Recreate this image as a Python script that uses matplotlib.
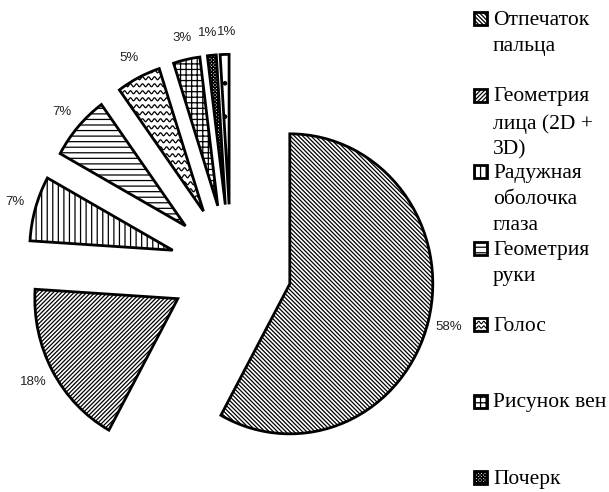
import numpy as np
import matplotlib
matplotlib.use("Agg")
import matplotlib.pyplot as plt
from matplotlib.patches import Rectangle

# доли методов биометрической идентификации, %
shares = [58, 18, 7, 7, 5, 3, 1, 1]
methods = [
    "Отпечаток\nпальца",
    "Геометрия\nлица (2D +\n3D)",
    "Радужная\nоболочка\nглаза",
    "Геометрия\nруки",
    "Голос",
    "Рисунок вен",
    "Почерк",
]
# штриховка секторов; "~" рисуется волнами вручную
hatches = ["\\" * 8, "/" * 8, "|||", "---", "~", "+++", "x" * 10, "."]

plt.rcParams["hatch.linewidth"] = 0.9
plt.rcParams["hatch.color"] = "black"

W, H = 609, 492
fig = plt.figure(figsize=(W / 100, H / 100), dpi=100)
ax = fig.add_axes([0, 0, 1, 1])


def wave_fill(ax, patch, step, amp, period, lw=0.9):
    """Волнистая штриховка внутри patch."""
    bb = patch.get_patch_transform().transform_path(patch.get_path()).get_extents()
    xs = np.linspace(bb.x0 - period, bb.x1 + period, 600)
    for yc in np.arange(bb.y0 - step, bb.y1 + step, step):
        ln, = ax.plot(xs, yc + amp * np.sin(2 * np.pi * xs / period),
                      color="black", lw=lw, zorder=patch.get_zorder() - 0.1,
                      solid_capstyle="butt")
        ln.set_clip_path(patch)


wedges, texts = ax.pie(
    shares,
    labels=[f"{v}%" for v in shares],
    startangle=90,
    counterclock=False,
    explode=[0.4245] * len(shares),
    labeldistance=1.15,
    colors=["white"] * len(shares),
    wedgeprops=dict(edgecolor="black", linewidth=2.0),
    textprops=dict(fontsize=9.5, family="Liberation Sans", color="#222222"),
)
for t in texts:
    t.set_ha("center")
    t.set_va("center")
# две подписи по 1% стоят вплотную друг к другу
xm = (texts[-2].get_position()[0] + texts[-1].get_position()[0]) / 2
texts[-2].set_x(xm)
texts[-2].set_ha("right")
texts[-1].set_x(xm)
texts[-1].set_ha("left")

# масштаб осей: 143 px на радиус по горизонтали, 150 px по вертикали
cx, cy, rx, ry = 231, 268, 143, 150
for w, h in zip(wedges, hatches):
    if h == "~":
        w.set_facecolor("none")
        wave_fill(ax, w, step=7 / ry, amp=1.5 / ry, period=6 / rx)
    else:
        w.set_hatch(h)

ax.set_aspect("auto")
ax.set_xlim(-cx / rx, (W - cx) / rx)
ax.set_ylim((cy - H) / ry, cy / ry)
ax.axis("off")

# легенда в пиксельных координатах
lg = fig.add_axes([0, 0, 1, 1], zorder=3)
lg.set_xlim(0, W)
lg.set_ylim(H, 0)
lg.axis("off")
for i, name in enumerate(methods):
    yc = 19 + 76.5 * i
    box = Rectangle((474, yc - 7), 13, 13, facecolor="white",
                    edgecolor="black", linewidth=2.0,
                    hatch=None if hatches[i] == "~" else hatches[i])
    lg.add_patch(box)
    if hatches[i] == "~":
        box.set_facecolor("none")
        wave_fill(lg, box, step=4.5, amp=1.2, period=5, lw=0.8)
    lg.text(493, yc - 8, name, ha="left", va="top", fontsize=15.5,
            family="Liberation Serif", color="black", linespacing=1.5)

fig.savefig("out.png", dpi=100)
